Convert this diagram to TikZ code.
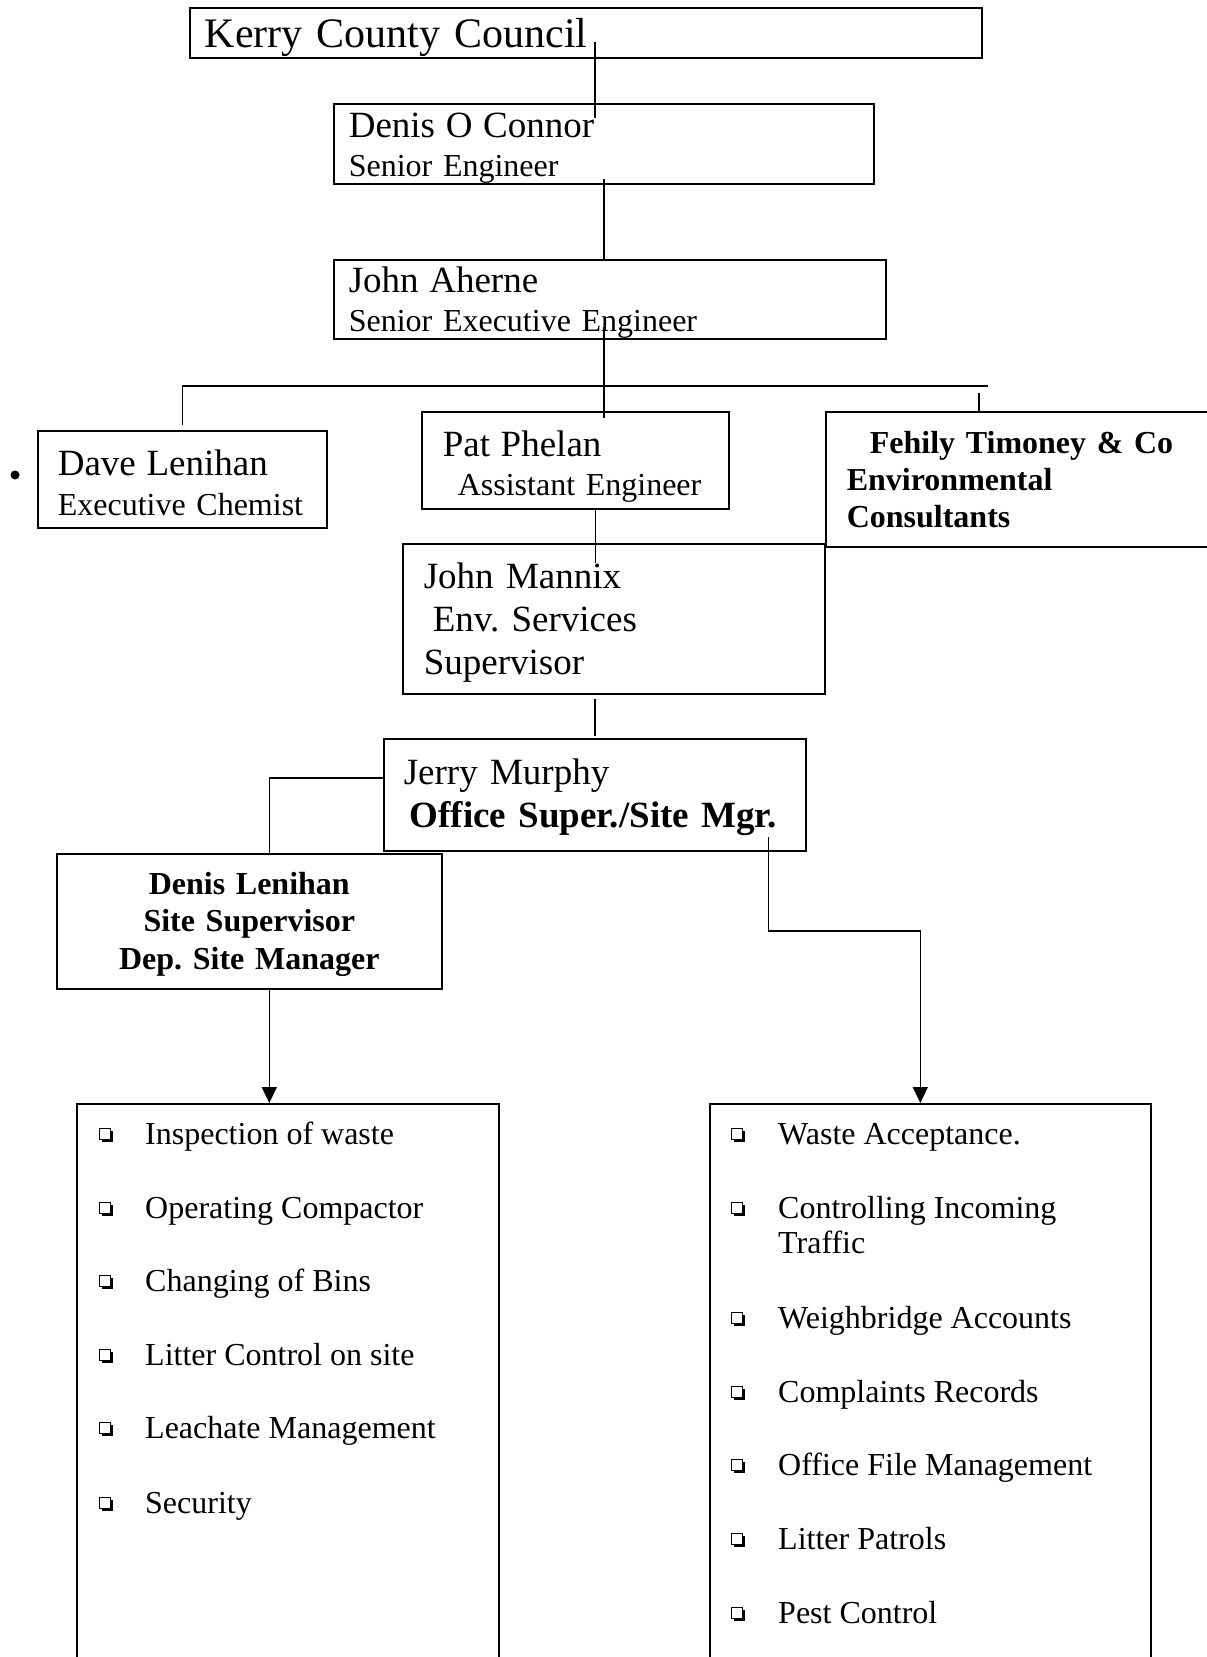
\documentclass[tikz,border=0pt]{standalone}
\usepackage{fontspec}
\setmainfont{Liberation Serif}
\usetikzlibrary{arrows.meta,shadows}
\frenchspacing

\newcommand\kccfont{\fontsize{42}{46}\selectfont}
\newcommand\namefont{\fontsize{37}{43}\selectfont}
\newcommand\subfont{\fontsize{32}{39}\selectfont}
\newcommand\itemfont{\fontsize{32}{35}\selectfont}

\tikzset{
  orgbox/.style={draw, line width=1.6pt, anchor=north west, inner ysep=0pt, align=left},
  lower/.style={execute at begin node={\rule{0pt}{#1}}},
  link/.style={line width=1.6pt},
  arrow/.style={link, -{Triangle[width=15pt,length=16pt]}},
  tick/.style={draw, fill=white, line width=0.9pt, minimum size=11pt, inner sep=0pt,
    drop shadow={shadow xshift=2pt, shadow yshift=-2pt, opacity=1, fill=black}},
  item/.style={anchor=base west, inner sep=0pt, font=\itemfont}
}

\begin{document}
\begin{tikzpicture}[x=1pt,y=-1pt]

% Page frame
\useasboundingbox (0,0) rectangle (1207,1657);

% Top of the chart
\node[orgbox, lower=38pt, font=\kccfont, minimum width=792pt, minimum height=50pt, inner xsep=15pt, text width=762pt] (kcc) at (189,7) {Kerry County Council};
\node[orgbox, lower=34pt, font=\subfont, minimum width=540pt, minimum height=79pt, inner xsep=15pt, text width=510pt] (oconnor) at (333,103) {{\namefont Denis O Connor}\\Senior Engineer};
\node[orgbox, lower=33pt, font=\subfont, minimum width=552pt, minimum height=79pt, inner xsep=15pt, text width=522pt] (aherne) at (333,259) {{\namefont John Aherne}\\Senior Executive Engineer};

% Second row
\node[fill, circle, inner sep=0pt, minimum size=9pt] (dot) at (15,475) {};
\node[orgbox, lower=33pt, font=\subfont, minimum width=289pt, minimum height=97pt, inner xsep=20pt, text width=249pt] (dave) at (37,430) {{\namefont Dave Lenihan}\\[1pt]Executive Chemist};
\node[orgbox, lower=39pt, font=\subfont, minimum width=307pt, minimum height=97pt, inner xsep=21pt, text width=265pt] (pat) at (421,411) {{\namefont Pat Phelan}\\[0pt]\hspace*{15pt}Assistant Engineer};
\node[orgbox, font=\bfseries\subfont, minimum width=420pt, minimum height=135pt, inner xsep=21pt, text width=378pt] (fehily) at (825,411) {\hspace*{23pt}Fehily Timoney \& Co\\[-2pt]Environmental\\[-2pt]Consultants};

% Site staff
\node[orgbox, lower=33pt, font=\namefont, minimum width=422pt, minimum height=150pt, inner xsep=21pt, text width=380pt] (mannix) at (402,543) {John Mannix\\\hspace*{9pt}Env. Services\\Supervisor};
\node[orgbox, lower=31pt, font=\namefont, minimum width=422pt, minimum height=112pt, inner xsep=20pt, text width=382pt] (jerry) at (383,738) {Jerry Murphy\\{\bfseries\hspace*{6pt}Office Super./Site Mgr.}};
\node[orgbox, lower=28pt, font=\bfseries\subfont, align=center, minimum width=385pt, minimum height=135pt, inner xsep=10pt, text width=365pt] (dl) at (56,853) {Denis Lenihan\\[-1.5pt]Site Supervisor\\[-1.5pt]Dep. Site Manager};

% Task lists
\node[orgbox, minimum width=422pt, minimum height=650pt] (leftlist) at (76,1103) {};
\node[orgbox, minimum width=441pt, minimum height=650pt] (rightlist) at (709,1103) {};

\foreach \yy/\txt [count=\i] in {1144/Inspection of waste, 1218/Operating Compactor, 1291/Changing of Bins,
    1365/Litter Control on site, 1438/Leachate Management, 1513/Security}{
  \node[tick] (lb\i) at (105,\yy-10) {};
  \node[item] (lt\i) at (145,\yy) {\txt};
}
\foreach \yy/\txt [count=\i] in {1144/Waste Acceptance., 1218/{\parbox[t]{300pt}{Controlling Incoming\\Traffic}},
    1328/Weighbridge Accounts, 1402/Complaints Records, 1475/Office File Management,
    1549/Litter Patrols, 1623/Pest Control}{
  \node[tick] (rb\i) at (737,\yy-10) {};
  \node[item] (rt\i) at (778,\yy) {\txt};
}

% Connectors
\coordinate (barend) at (988,386);
\coordinate (fdrop) at (979,393);
\draw[link, shorten <=-17pt, shorten >=-15pt] ([xshift=9pt]kcc.south) -- ([xshift=9pt]kcc.south |- oconnor.north);
\draw[link, shorten <=-6pt, shorten >=-2pt] (oconnor.south) -- (oconnor.south |- aherne.north);
\draw[link, shorten <=-13pt, shorten >=-7pt] (aherne.south -| oconnor.south) -- (pat.north -| oconnor.south);
\draw[link, shorten <=5pt] (dave.north) -- (dave.north |- barend) -- (barend);
\draw[link] (fdrop) -- (fdrop |- fehily.north);
\draw[link, shorten >=-20pt] ([xshift=20pt]pat.south) -- ([xshift=20pt]pat.south |- mannix.north);
\draw[link, shorten <=4pt, shorten >=2pt] (mannix.south -| jerry.north) -- (jerry.north);
\draw[link] ([yshift=17pt]jerry.west) -| ([xshift=20pt]dl.north);
\draw[arrow] ([xshift=20pt]dl.south) -- ([xshift=20pt]dl.south |- leftlist.north);
\draw[arrow] ([xshift=-38pt,yshift=15pt]jerry.south east) |- ([xshift=-10pt,yshift=172pt]rightlist.north) -- ([xshift=-10pt]rightlist.north);

\end{tikzpicture}
\end{document}
